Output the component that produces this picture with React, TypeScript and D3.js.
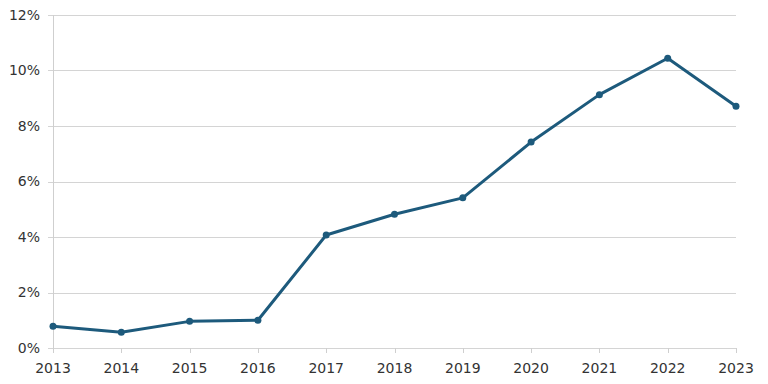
import React, { useEffect, useRef } from 'react'
import * as d3 from 'd3'

const years = ['2013', '2014', '2015', '2016', '2017', '2018', '2019', '2020', '2021', '2022', '2023']
const shares = [0.78, 0.57, 0.96, 1.0, 4.07, 4.82, 5.41, 7.42, 9.13, 10.44, 8.71]
const yTicks = [0, 2, 4, 6, 8, 10, 12]

const App = () => {
  const ref = useRef<SVGSVGElement>(null)

  useEffect(() => {
    const width = 768, height = 384
    const margin = { top: 15, right: 32, bottom: 36, left: 53 }
    const svg = d3.select(ref.current)
    svg.selectAll('*').remove()

    const x = d3.scalePoint<string>()
      .domain(years)
      .range([margin.left, width - margin.right])
    const y = d3.scaleLinear()
      .domain([0, 12])
      .range([height - margin.bottom, margin.top])

    const font = 'DejaVu Sans, Verdana, sans-serif'

    // horizontal grid with small ticks left of the axis
    const grid = svg.append('g')
    grid.selectAll('line')
      .data(yTicks)
      .enter().append('line')
      .attr('x1', margin.left - 5)
      .attr('x2', width - margin.right)
      .attr('y1', d => Math.round(y(d)) + 0.5)
      .attr('y2', d => Math.round(y(d)) + 0.5)
      .attr('stroke', '#d4d4d4')
      .attr('stroke-width', 1)

    grid.selectAll('text')
      .data(yTicks)
      .enter().append('text')
      .attr('x', margin.left - 13)
      .attr('y', d => y(d))
      .attr('dy', '0.35em')
      .attr('text-anchor', 'end')
      .attr('font-family', font)
      .attr('font-size', 14)
      .attr('fill', '#333')
      .text(d => d + '%')

    // vertical axis line
    svg.append('line')
      .attr('x1', margin.left + 0.5)
      .attr('x2', margin.left + 0.5)
      .attr('y1', margin.top)
      .attr('y2', y(0) + 5)
      .attr('stroke', '#cfcfcf')

    // x axis ticks and labels
    const xa = svg.append('g')
    xa.selectAll('line')
      .data(years)
      .enter().append('line')
      .attr('x1', d => Math.round(x(d)!) + 0.5)
      .attr('x2', d => Math.round(x(d)!) + 0.5)
      .attr('y1', y(0))
      .attr('y2', y(0) + 5)
      .attr('stroke', '#cfcfcf')
    xa.selectAll('text')
      .data(years)
      .enter().append('text')
      .attr('x', d => x(d)!)
      .attr('y', y(0) + 25)
      .attr('text-anchor', 'middle')
      .attr('font-family', font)
      .attr('font-size', 14)
      .attr('fill', '#333')
      .text(d => d)

    const pts = years.map((yr, i) => ({ yr, v: shares[i] }))
    const color = '#1d5a7c'

    svg.append('path')
      .datum(pts)
      .attr('fill', 'none')
      .attr('stroke', color)
      .attr('stroke-width', 3)
      .attr('stroke-linejoin', 'round')
      .attr('d', d3.line<{ yr: string, v: number }>()
        .x(d => x(d.yr)!)
        .y(d => y(d.v)))

    svg.append('g')
      .selectAll('circle')
      .data(pts)
      .enter().append('circle')
      .attr('cx', d => x(d.yr)!)
      .attr('cy', d => y(d.v))
      .attr('r', 3.5)
      .attr('fill', color)
  }, [])

  return (
    <svg ref={ref} width={768} height={384}
      style={{ position: 'absolute', left: 0, top: 0, background: '#fff' }} />
  )
}

export default App
